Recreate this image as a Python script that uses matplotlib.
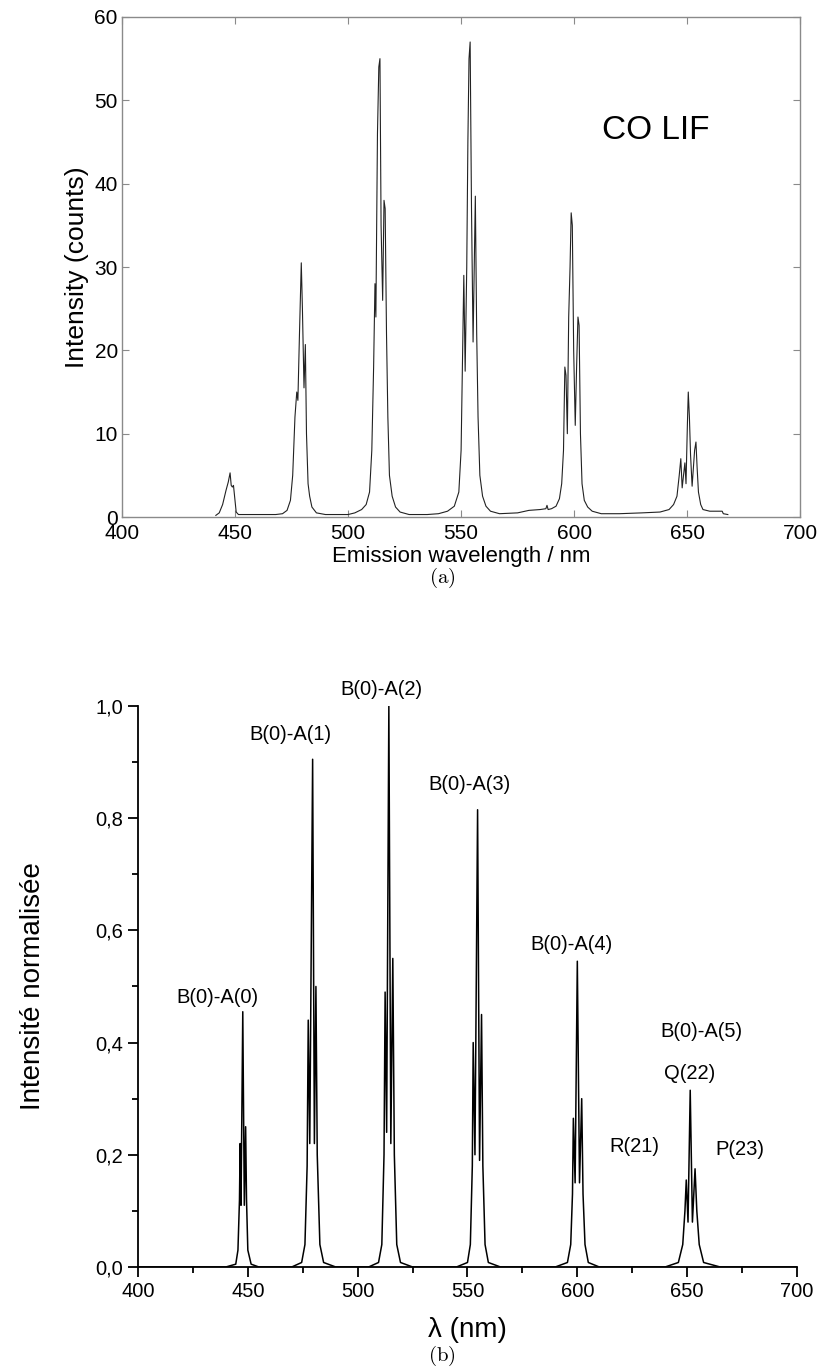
import numpy as np
import matplotlib
matplotlib.use("Agg")
import matplotlib.pyplot as plt
from matplotlib.ticker import MultipleLocator, FuncFormatter

plt.rcParams['mathtext.fontset'] = 'cm'

lam_a = [441.5, 443, 444.5, 446, 447, 447.8, 448.3, 448.8, 449.3, 449.8, 450.5, 451.5,
         460, 468, 471, 473, 474.5, 475.5, 476.5, 477.3, 477.8, 478.5, 479.3, 479.8, 480.5,
         481.1, 481.6, 482.3, 483, 484, 486, 490,
         500, 503, 506, 508, 509.5, 510.5, 511.3, 511.9, 512.3, 513, 513.6, 514.1, 514.6,
         515.3, 515.9, 516.4, 517, 517.6, 518.3, 519.5, 521, 523, 527,
         535, 540, 544, 547, 549, 550, 550.7, 551.2, 551.8, 552.5, 553, 553.5, 554, 554.6,
         555.3, 555.8, 556.3, 556.9, 557.5, 558.3, 559.5, 561, 563, 567,
         575, 580, 585, 587.5, 588, 588.5, 590, 592, 593.5, 594.5, 595.3, 595.9, 596.4, 597,
         597.6, 598.2, 598.7, 599.2, 599.8, 600.5, 601.1, 601.7, 602.2, 602.8, 603.5, 604.5,
         606, 608, 612,
         620, 630, 638, 642, 644, 645.5, 646.5, 647.2, 647.8, 648.4, 649, 649.5, 650.1,
         650.5, 651, 651.5, 652.2, 652.8, 653.3, 653.9, 654.4, 655, 656, 657, 660, 665.5,
         666, 668]
int_a = [0.2, 0.5, 1.5, 3.2, 4.2, 5.3, 3.8, 3.6, 3.8, 2.5, 0.6, 0.3,
         0.3, 0.3, 0.4, 0.8, 2, 5, 12, 15, 14, 22, 30.5, 25, 15.5,
         20.7, 10, 4, 2.5, 1.2, 0.5, 0.3,
         0.3, 0.5, 0.9, 1.5, 3, 8, 18, 28, 24, 46, 54, 55, 35,
         26, 38, 37, 22, 12, 5, 2.5, 1.2, 0.6, 0.3,
         0.3, 0.4, 0.7, 1.3, 3, 8, 20, 29, 17.5, 30, 45, 55, 57, 37,
         21, 30, 38.5, 22, 12, 5, 2.5, 1.3, 0.7, 0.4,
         0.5, 0.8, 0.9, 1.0, 1.4, 0.9, 1.0, 1.3, 2.2, 4, 8, 18, 17, 10,
         24, 30, 36.5, 35, 20, 11, 18, 24, 23, 10, 4, 2,
         1.2, 0.7, 0.4,
         0.4, 0.5, 0.6, 0.9, 1.5, 2.5, 5, 7, 3.5, 5, 6.5, 4, 11,
         15, 12, 7.5, 3.7, 6, 8, 9, 6, 3, 1.5, 0.9, 0.7, 0.7,
         0.4, 0.3]

# --- (b) spectre simulé normalisé : sommets
lam_b = [400, 440,
         444.5, 445.5, 446.2, 446.5, 446.9, 447.7, 448.4, 449.0, 449.4, 450.0, 451.5, 455,
         470, 474.5, 476, 477, 477.5, 478.2, 479.5, 480.3, 481, 481.6, 482.8, 484.5, 490,
         505, 509.5, 511, 512, 512.5, 513.2, 514.2, 515.1, 516, 516.7, 517.8, 519.5, 525,
         545, 550, 551.3, 552.2, 552.6, 553.4, 554.6, 555.5, 556.4, 557, 558, 559.5, 565,
         590, 595.5, 597, 597.8, 598.2, 599, 600, 601, 602, 602.6, 603.5, 605, 610,
         640, 646, 648, 649, 649.6, 650.4, 651.4, 652.4, 653.6, 654.4, 655.5, 657.5, 665,
         700]
int_b = [0.0, 0.0,
         0.005, 0.03, 0.12, 0.22, 0.11, 0.455, 0.11, 0.25, 0.12, 0.03, 0.005, 0.0,
         0.0, 0.008, 0.04, 0.18, 0.44, 0.22, 0.905, 0.22, 0.50, 0.2, 0.04, 0.008, 0.0,
         0.0, 0.008, 0.04, 0.2, 0.49, 0.24, 1.0, 0.22, 0.55, 0.2, 0.04, 0.008, 0.0,
         0.0, 0.008, 0.04, 0.18, 0.40, 0.2, 0.815, 0.19, 0.45, 0.18, 0.04, 0.008, 0.0,
         0.0, 0.008, 0.04, 0.13, 0.265, 0.15, 0.545, 0.15, 0.30, 0.13, 0.04, 0.008, 0.0,
         0.0, 0.008, 0.04, 0.1, 0.155, 0.08, 0.315, 0.08, 0.175, 0.1, 0.04, 0.008, 0.0,
         0.0]

# étiquettes des bandes (texte, x, y)
band_labels = ["B(0)-A(0)", "B(0)-A(1)", "B(0)-A(2)", "B(0)-A(3)", "B(0)-A(4)",
               "B(0)-A(5)", "Q(22)", "R(21)", "P(23)"]
band_x = [436, 469.5, 511, 551, 597.5, 656.5, 651, 626, 674]
band_y = [0.48, 0.95, 1.03, 0.86, 0.575, 0.42, 0.345, 0.215, 0.21]

fig = plt.figure(figsize=(8.19, 13.70), dpi=100)

# ---------------- (a)
ax1 = fig.add_axes([0.149, 0.6226, 0.828, 0.365])
ax1.plot(lam_a, int_a, color='#222222', lw=0.8)
ax1.set_xlim(400, 700)
ax1.set_ylim(0, 60)
ax1.xaxis.set_major_locator(MultipleLocator(50))
ax1.yaxis.set_major_locator(MultipleLocator(10))
for s in ax1.spines.values():
    s.set_color('#8a8a8a')
    s.set_linewidth(1.0)
fa = ['Liberation Sans Narrow', 'Liberation Sans', 'DejaVu Sans']
ax1.tick_params(direction='in', length=5, color='#8a8a8a', top=True, right=True,
                labelsize=15, pad=3)
ax1.tick_params(axis='x', pad=5)
for lab in ax1.get_xticklabels() + ax1.get_yticklabels():
    lab.set_family(fa)
ax1.set_xlabel("Emission wavelength / nm", fontsize=16, family=fa, labelpad=2)
ax1.set_ylabel("Intensity (counts)", fontsize=19, family=fa, labelpad=4)
ax1.text(636, 46.4, "CO LIF", fontsize=24, family=fa, ha='center', va='center')
fig.text(0.54, 1 - 578/1370, r"$\mathrm{(a)}$", fontsize=15, ha='center', va='center')

# ---------------- (b)
ax2 = fig.add_axes([0.1685, 0.0752, 0.8046, 0.4095])
ax2.plot(lam_b, int_b, color='black', lw=1.1)
ax2.set_xlim(400, 700)
ax2.set_ylim(0, 1.0)
ax2.spines['top'].set_visible(False)
ax2.spines['right'].set_visible(False)
for s in ['left', 'bottom']:
    ax2.spines[s].set_linewidth(1.3)
ax2.xaxis.set_major_locator(MultipleLocator(50))
ax2.xaxis.set_minor_locator(MultipleLocator(25))
ax2.yaxis.set_major_locator(MultipleLocator(0.2))
ax2.yaxis.set_minor_locator(MultipleLocator(0.1))
ax2.yaxis.set_major_formatter(FuncFormatter(lambda v, p: f"{v:.1f}".replace('.', ',')))
fb = ['Liberation Sans', 'DejaVu Sans']
ax2.tick_params(which='major', direction='out', length=7, width=1.3, labelsize=14.5)
ax2.tick_params(which='minor', direction='out', length=4, width=1.3)
for lab in ax2.get_xticklabels() + ax2.get_yticklabels():
    lab.set_family(fb)
ax2.set_xlabel("λ (nm)", fontsize=20, family=fb, labelpad=12)
ax2.set_ylabel("Intensité normalisée", fontsize=20, family=fb, labelpad=36)
for t, x, y in zip(band_labels, band_x, band_y):
    ax2.text(x, y, t, fontsize=14.5, family=fb, ha='center', va='center')
fig.text(0.54, 1 - 1356/1370, r"$\mathrm{(b)}$", fontsize=15, ha='center', va='center')

fig.savefig("out.png", dpi=100)
